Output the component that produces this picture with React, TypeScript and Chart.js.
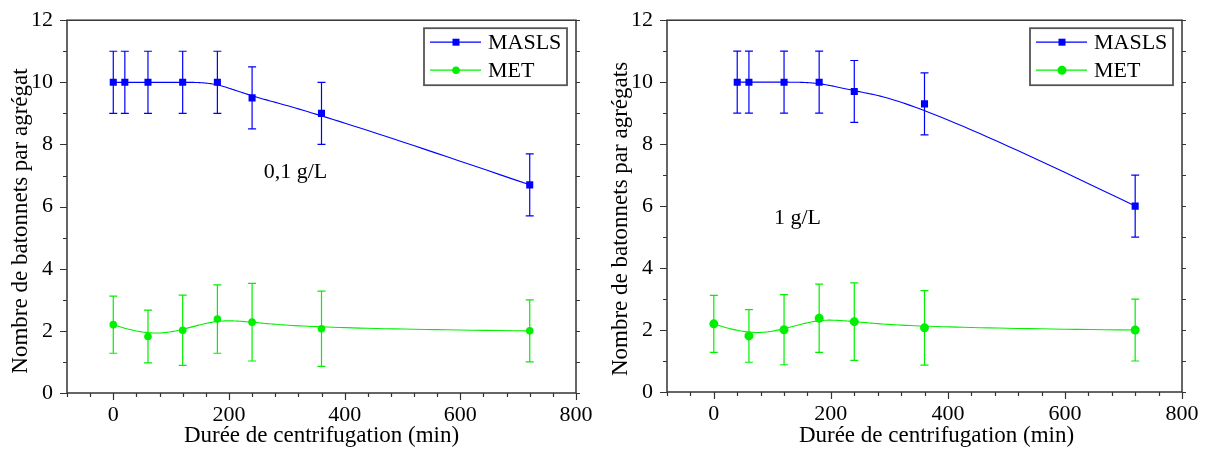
import React, { useEffect, useRef } from "react";
import { Chart, registerables } from "chart.js";
Chart.register(...registerables);

const FONT = "'Liberation Serif', 'Times New Roman', serif";
const BLUE = "#0000ff";
const GREEN = "#00f000";

// ---- data: panel 0,1 g/L ----
const leftMaslsX = [0, 20, 60, 120, 180, 240, 360, 720];
const leftMaslsY = [10, 10, 10, 10, 10, 9.5, 9, 6.7];
const leftMaslsErr = [1, 1, 1, 1, 1, 1, 1, 1];
const leftMetX = [0, 60, 120, 180, 240, 360, 720];
const leftMetY = [2.2, 1.82, 2.02, 2.38, 2.28, 2.07, 2.0];
const leftMetErr = [0.92, 0.85, 1.13, 1.1, 1.25, 1.21, 1.0];

// ---- data: panel 1 g/L ----
const rightMaslsX = [40, 60, 120, 180, 240, 360, 720];
const rightMaslsY = [10, 10, 10, 10, 9.7, 9.3, 6.0];
const rightMaslsErr = [1, 1, 1, 1, 1, 1, 1];
const rightMetX = [0, 60, 120, 180, 240, 360, 720];
const rightMetY = [2.2, 1.81, 2.01, 2.38, 2.27, 2.07, 2.0];
const rightMetErr = [0.92, 0.85, 1.13, 1.1, 1.25, 1.2, 1.0];

const xTickValues = [0, 200, 400, 600, 800];
const yTickValues = [0, 2, 4, 6, 8, 10, 12];
const seriesNames = ["MASLS", "MET"];
const xTitle = "Durée de centrifugation (min)";
const leftYTitle = "Nombre de batonnets par agrégat";
const rightYTitle = "Nombre de batonnets par agrégats";
const leftNote = "0,1 g/L";
const rightNote = "1 g/L";

type Pt = { x: number; y: number };

function bspline(pts: Pt[], samples = 40): Pt[] {
  const n = pts.length;
  const p = 3;
  if (n < 4) return pts;
  const m = n - p;
  const knots: number[] = [];
  for (let i = 0; i <= p; i++) knots.push(0);
  for (let i = 1; i < m; i++) knots.push(i);
  for (let i = 0; i <= p; i++) knots.push(m);
  const out: Pt[] = [];
  for (let s = 0; s <= m * samples; s++) {
    const t = s / samples;
    let k = p;
    while (k < n - 1 && t >= knots[k + 1]) k++;
    const d: Pt[] = [];
    for (let j = 0; j <= p; j++) d.push({ x: pts[j + k - p].x, y: pts[j + k - p].y });
    for (let r = 1; r <= p; r++) {
      for (let j = p; j >= r; j--) {
        const i = j + k - p;
        const denom = knots[i + p - r + 1] - knots[i];
        const a = denom === 0 ? 0 : (t - knots[i]) / denom;
        d[j] = { x: (1 - a) * d[j - 1].x + a * d[j].x, y: (1 - a) * d[j - 1].y + a * d[j].y };
      }
    }
    out.push(d[p]);
  }
  return out;
}

const decorPlugin = {
  id: "panelDecor",
  beforeDatasetsDraw(chart: any) {
    const { ctx, scales } = chart;
    const xs = scales.x, ys = scales.y;
    chart.data.datasets.forEach((ds: any) => {
      const pts: Pt[] = ds.data.map((d: any) => ({ x: xs.getPixelForValue(d.x), y: ys.getPixelForValue(d.y) }));
      const curve = bspline(pts);
      ctx.save();
      ctx.strokeStyle = ds.borderColor;
      ctx.lineWidth = 1.1;
      ctx.beginPath();
      curve.forEach((c, i) => (i === 0 ? ctx.moveTo(c.x, c.y) : ctx.lineTo(c.x, c.y)));
      ctx.stroke();
      ctx.lineWidth = 1.2;
      ds.data.forEach((d: any, i: number) => {
        const e = ds.errors[i];
        const px = xs.getPixelForValue(d.x);
        const top = ys.getPixelForValue(d.y + e);
        const bot = ys.getPixelForValue(d.y - e);
        ctx.beginPath();
        ctx.moveTo(px, top); ctx.lineTo(px, bot);
        ctx.moveTo(px - 4, top); ctx.lineTo(px + 4, top);
        ctx.moveTo(px - 4, bot); ctx.lineTo(px + 4, bot);
        ctx.stroke();
      });
      ctx.restore();
    });
  },
  afterDraw(chart: any, _args: any, opts: any) {
    const { ctx, scales, chartArea } = chart;
    const xs = scales.x, ys = scales.y;
    const { left, right, top, bottom } = chartArea;
    ctx.save();
    ctx.strokeStyle = "#333";
    ctx.lineWidth = 1.5;
    ctx.strokeRect(left, top, right - left, bottom - top);
    ctx.lineWidth = 1.2;
    ctx.beginPath();
    for (let v = -80; v <= 800; v += 40) {
      const px = Math.round(xs.getPixelForValue(v)) + 0.5;
      const len = v % 200 === 0 ? 7 : 4;
      ctx.moveTo(px, bottom); ctx.lineTo(px, bottom + len);
    }
    for (let v = 0; v <= 12; v += 1) {
      const py = Math.round(ys.getPixelForValue(v)) + 0.5;
      const len = v % 2 === 0 ? 7 : 4;
      ctx.moveTo(left, py); ctx.lineTo(left - len, py);
      ctx.moveTo(right, py); ctx.lineTo(right + 4, py);
    }
    ctx.stroke();

    // axis titles
    ctx.fillStyle = "#000";
    ctx.font = `23px ${FONT}`;
    ctx.textAlign = "center";
    ctx.textBaseline = "middle";
    ctx.fillText(opts.xTitle, (left + right) / 2 + opts.xTitleShift, chart.height - 13.8);
    ctx.save();
    ctx.translate(21, opts.yTitleCenter);
    ctx.rotate(-Math.PI / 2);
    ctx.fillText(opts.yTitle, 0, 0);
    ctx.restore();

    // annotation
    ctx.font = `22px ${FONT}`;
    ctx.fillText(opts.note, xs.getPixelForValue(opts.noteX), ys.getPixelForValue(opts.noteY));

    // legend
    const bx = right - 152, by = top + 8, bw = 143, bh = 57;
    ctx.fillStyle = "#fff";
    ctx.fillRect(bx, by, bw, bh);
    ctx.strokeStyle = "#555";
    ctx.lineWidth = 1.8;
    ctx.strokeRect(bx, by, bw, bh);
    chart.data.datasets.forEach((ds: any, i: number) => {
      const cy = by + 14 + i * 28;
      ctx.strokeStyle = ds.borderColor;
      ctx.lineWidth = 1.3;
      ctx.beginPath();
      ctx.moveTo(bx + 6, cy); ctx.lineTo(bx + 57, cy);
      ctx.stroke();
      ctx.fillStyle = ds.backgroundColor;
      if (ds.pointStyle === "rect") {
        ctx.fillRect(bx + 32 - 3.5, cy - 3.5, 7, 7);
      } else {
        ctx.beginPath();
        ctx.arc(bx + 32, cy, ds.pointRadius, 0, Math.PI * 2);
        ctx.fill();
      }
      ctx.fillStyle = "#000";
      ctx.font = `22px ${FONT}`;
      ctx.textAlign = "left";
      ctx.textBaseline = "middle";
      ctx.fillText(ds.label, bx + 64, cy + 1);
    });
    ctx.restore();
  },
};

type Panel = {
  maslsX: number[]; maslsY: number[]; maslsErr: number[];
  metX: number[]; metY: number[]; metErr: number[];
  metRadius: number; yTitle: string; note: string; noteX: number; noteY: number;
  padRight: number; padTop: number; xHeight: number; xTitleShift: number; yTitleCenter: number;
};

function makeConfig(p: Panel): any {
  const tickFont = { family: FONT, size: 22 };
  return {
    type: "scatter",
    data: {
      datasets: [
        {
          label: seriesNames[0],
          data: p.maslsX.map((x, i) => ({ x, y: p.maslsY[i] })),
          errors: p.maslsErr,
          pointStyle: "rect", pointRadius: 5, pointBorderWidth: 0,
          backgroundColor: BLUE, borderColor: BLUE, showLine: false,
        },
        {
          label: seriesNames[1],
          data: p.metX.map((x, i) => ({ x, y: p.metY[i] })),
          errors: p.metErr,
          pointStyle: "circle", pointRadius: p.metRadius, pointBorderWidth: 0,
          backgroundColor: GREEN, borderColor: GREEN, showLine: false,
        },
      ],
    },
    options: {
      animation: false,
      responsive: false,
      maintainAspectRatio: false,
      layout: { padding: { left: 8, right: p.padRight, top: p.padTop, bottom: 0 } },
      plugins: {
        legend: { display: false },
        tooltip: { enabled: false },
        panelDecor: {
          note: p.note, noteX: p.noteX, noteY: p.noteY,
          xTitle, yTitle: p.yTitle, xTitleShift: p.xTitleShift, yTitleCenter: p.yTitleCenter,
        },
      },
      scales: {
        x: {
          type: "linear", min: -80, max: 800,
          grid: { display: false, drawTicks: true, tickLength: 7 },
          border: { display: false },
          ticks: { font: tickFont, color: "#000", padding: 2, maxRotation: 0, autoSkip: false },
          afterBuildTicks: (s: any) => { s.ticks = xTickValues.map((v) => ({ value: v })); },
          afterFit: (s: any) => { s.height = p.xHeight; },
        },
        y: {
          type: "linear", min: 0, max: 12,
          grid: { display: false, drawTicks: true, tickLength: 7 },
          border: { display: false },
          ticks: { font: tickFont, color: "#000", padding: 7 },
          afterBuildTicks: (s: any) => { s.ticks = yTickValues.map((v) => ({ value: v })); },
          afterFit: (s: any) => { s.width = 59; },
        },
      },
    },
    plugins: [decorPlugin],
  };
}

function ChartPanel({ panel, width, left }: { panel: Panel; width: number; left: number }) {
  const ref = useRef<HTMLCanvasElement>(null);
  useEffect(() => {
    if (!ref.current) return;
    const chart = new Chart(ref.current, makeConfig(panel));
    return () => chart.destroy();
  }, []);
  return (
    <canvas
      ref={ref}
      width={width}
      height={450}
      style={{ position: "absolute", left, top: 0, width, height: 450, display: "block" }}
    />
  );
}

const leftPanel: Panel = {
  maslsX: leftMaslsX, maslsY: leftMaslsY, maslsErr: leftMaslsErr,
  metX: leftMetX, metY: leftMetY, metErr: leftMetErr,
  metRadius: 3.8, yTitle: leftYTitle, note: leftNote, noteX: 315, noteY: 7.12,
  padRight: 24, padTop: 18, xHeight: 57, xTitleShift: 0, yTitleCenter: 221,
};

const rightPanel: Panel = {
  maslsX: rightMaslsX, maslsY: rightMaslsY, maslsErr: rightMaslsErr,
  metX: rightMetX, metY: rightMetY, metErr: rightMetErr,
  metRadius: 4.5, yTitle: rightYTitle, note: rightNote, noteX: 143, noteY: 5.6,
  padRight: 25, padTop: 17, xHeight: 58, xTitleShift: 12, yTitleCenter: 219,
};

export default function App() {
  return (
    <div style={{ position: "absolute", left: 0, top: 0, width: 1207, height: 450, background: "#fff" }}>
      <ChartPanel panel={leftPanel} width={600} left={0} />
      <ChartPanel panel={rightPanel} width={607} left={600} />
    </div>
  );
}
